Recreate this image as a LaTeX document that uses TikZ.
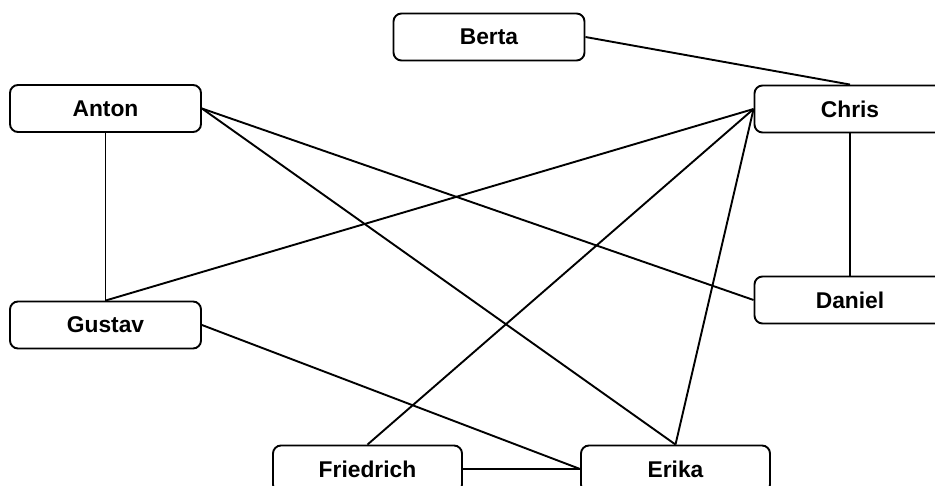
\documentclass[tikz,border=0pt]{standalone}
\usepackage{fontspec}
\setmainfont{Liberation Sans}
\usepackage{tikz}
\usetikzlibrary{positioning}

\begin{document}
\begin{tikzpicture}[x = 1pt, y = -1pt, line width = 1.9pt,
		person/.style = {draw, rounded corners = 8pt, minimum width = 191pt, minimum height = 47pt, inner sep = 0pt, font = \fontsize{22.8}{27}\selectfont\bfseries},
		link/.style = {line width = 1.9pt}]
		\useasboundingbox (0,0) rectangle (935,486);
		\node[person] (berta) at (489, 37) {Berta};
		\node[person] (anton) at (105.5, 108.5) {Anton};
		\node[person] (chris) at (850, 109) {Chris};
		\node[person] (gustav) at (105.5, 325) {Gustav};
		\node[person] (daniel) at (850, 300) {Daniel};
		\node[person, minimum width = 189pt] (friedrich) at (367.5, 469) {Friedrich};
		\node[person, minimum width = 189pt] (erika) at (675.5, 469) {Erika};
		\draw[link] (berta.east) -- (chris.north);
		\draw[link] (anton.east) -- (daniel.west);
		\draw[link] (anton.east) -- (erika.north);
		\draw[link] (anton.south) -- (gustav.north);
		\draw[link] (gustav.north) -- (chris.west);
		\draw[link] (gustav.east) -- (erika.west);
		\draw[link] (chris.west) -- (friedrich.north);
		\draw[link] (chris.west) -- (erika.north);
		\draw[link] (chris.south) -- (daniel.north);
		\draw[link] (friedrich.east) -- (erika.west);
	\end{tikzpicture}
\end{document}
